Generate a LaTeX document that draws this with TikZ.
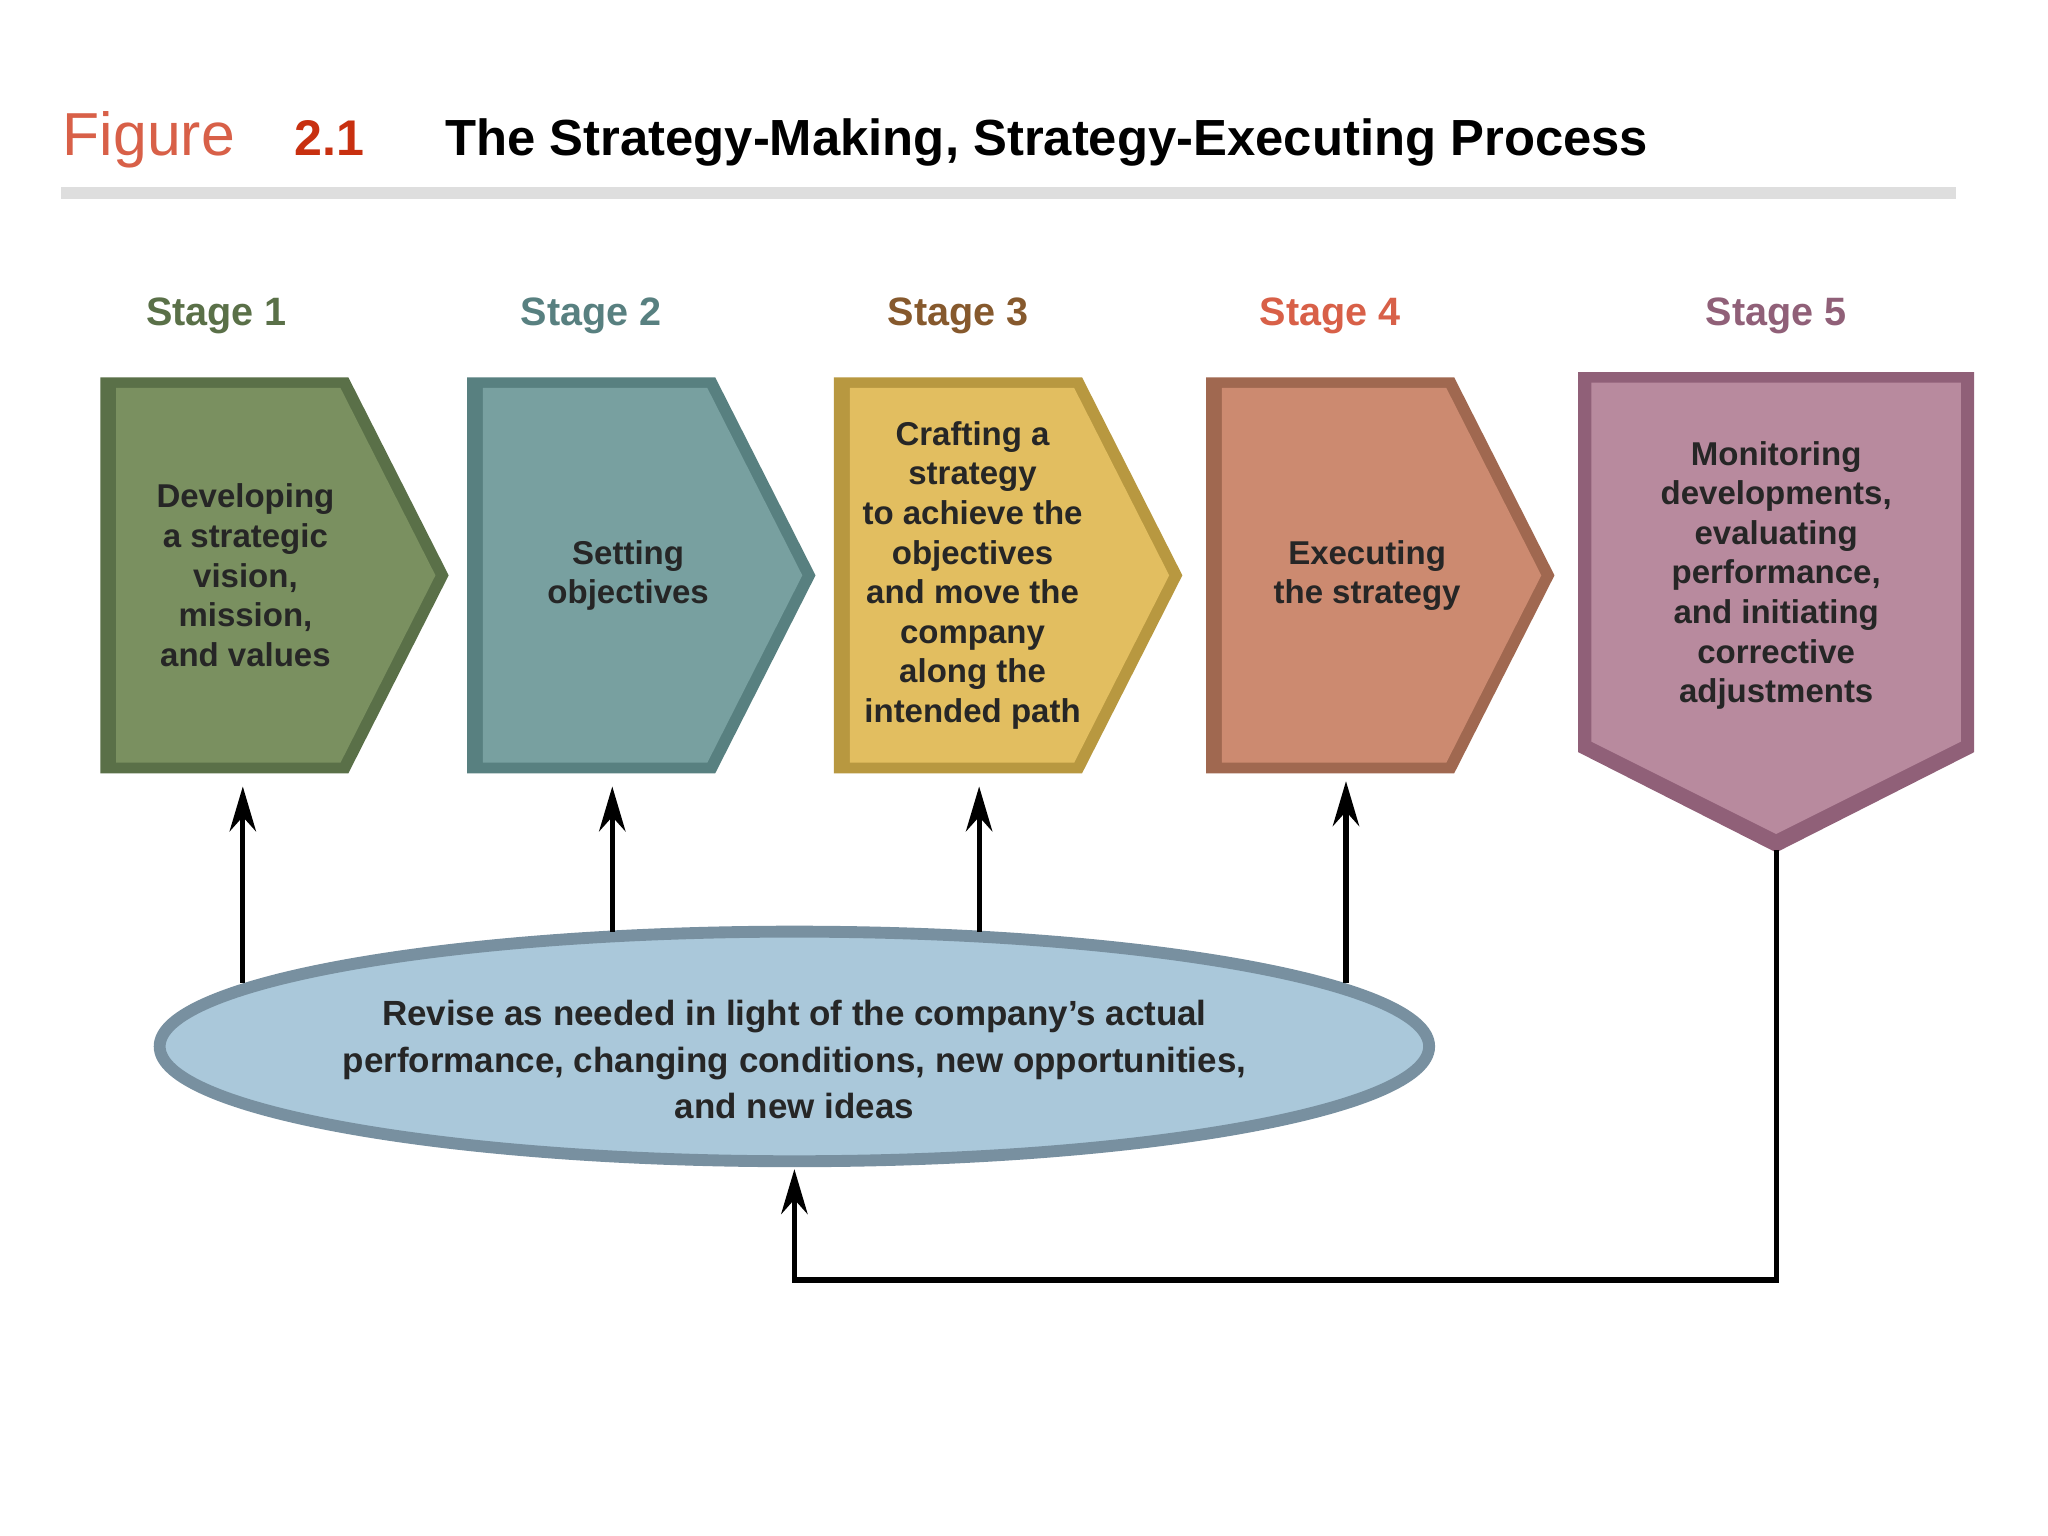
\documentclass[tikz,border=0pt]{standalone}
\usepackage{fontspec}
\setmainfont{Liberation Sans}
\usetikzlibrary{arrows.meta,shapes.geometric}
\definecolor{gA}{HTML}{7A9060}\definecolor{gAd}{HTML}{5A7048}
\definecolor{tA}{HTML}{78A0A0}\definecolor{tAd}{HTML}{588080}
\definecolor{yA}{HTML}{E2BE60}\definecolor{yAd}{HTML}{B89840}
\definecolor{oA}{HTML}{CC8A70}\definecolor{oAd}{HTML}{A06850}
\definecolor{pA}{HTML}{B88A9E}\definecolor{pAd}{HTML}{906078}
\definecolor{elA}{HTML}{AAC8DA}\definecolor{elAd}{HTML}{7890A0}
\definecolor{figc}{HTML}{D86048}\definecolor{numc}{HTML}{C83010}
\begin{document}
\begin{tikzpicture}[x=1pt,y=-1pt,
  body/.style={font=\fontsize{25}{30}\selectfont\bfseries,align=center,text=black!85},
  stg/.style={font=\fontsize{30}{30}\selectfont\bfseries},
  arr/.style={line width=4pt,-{Stealth[length=34pt,width=20pt]}}]
\useasboundingbox (0,0) rectangle (1552,1164);
\fill[white] (0,0) rectangle (1552,1164);
% title
\node[anchor=base west,font=\fontsize{46}{46}\selectfont,text=figc] (fig) at (44,118) {Figure};
\node[anchor=base west,font=\fontsize{38}{38}\selectfont\bfseries,text=numc] (num) at (220,118) {2.1};
\node[anchor=base west,font=\fontsize{38.5}{38}\selectfont\bfseries] (ttl) at (334,118) {The Strategy-Making, Strategy-Executing Process};
\fill[black!13] (46,142) rectangle (1482,151);
% stage labels
\node[stg,text=gAd] (s1) at (164,239) {Stage 1};
\node[stg,text=tAd] (s2) at (448,239) {Stage 2};
\node[stg,text=brown!70!black] (s3) at (726,239) {Stage 3};
\node[stg,text=figc] (s4) at (1008,239) {Stage 4};
\node[stg,text=pAd] (s5) at (1346,239) {Stage 5};
% shapes
\foreach \l/\c/\d in {76/gA/gAd,354/tA/tAd,632/yA/yAd,914/oA/oAd}{
  \fill[\d] (\l,286) -- ++(188,0) -- ++(76,150) -- ++(-76,150) -- ++(-188,0) -- cycle;
  \fill[\c] (\l+12,294) -- ++(170,0) -- ++(72,142) -- ++(-72,142) -- ++(-170,0) -- cycle;
}
\fill[pAd] (1196,282) -- (1496,282) -- (1496,570) -- (1346,646) -- (1196,570) -- cycle;
\fill[pA] (1206,290) -- (1486,290) -- (1486,562) -- (1346,632) -- (1206,562) -- cycle;
\node[body] (b1) at (186,436) {Developing\\a strategic\\vision,\\mission,\\and values};
\node[body] (b2) at (476,436) {Setting\\objectives};
\node[body] (b3) at (737,436) {Crafting a\\strategy\\to achieve the\\objectives\\and move the\\company\\along the\\intended path};
\node[body] (b4) at (1036,436) {Executing\\the strategy};
\node[body] (b5) at (1346,436) {Monitoring\\developments,\\evaluating\\performance,\\and initiating\\corrective\\adjustments};
% ellipse
\node[ellipse,draw=elAd,line width=9pt,fill=elA,minimum width=962pt,minimum height=174pt] (el) at (602,793) {};
\node[body,font=\fontsize{26.5}{35}\selectfont\bfseries] (et) at (602,803) {Revise as needed in light of the company’s actual\\performance, changing conditions, new opportunities,\\and new ideas};
% arrows
\coordinate (a1s) at (184,745); \coordinate (a1e) at (184,596);
\coordinate (a2s) at (464,706); \coordinate (a2e) at (464,596);
\coordinate (a3s) at (742,706); \coordinate (a3e) at (742,596);
\coordinate (a4s) at (1020,745); \coordinate (a4e) at (1020,592);
\draw[arr] (a1s) -- (a1e);
\draw[arr] (a2s) -- (a2e);
\draw[arr] (a3s) -- (a3e);
\draw[arr] (a4s) -- (a4e);
\coordinate (t5) at (1346,644); \coordinate (eb) at (602,886);
\draw[arr] (t5) -- (1346,970) -- (602,970) -- (eb);
\end{tikzpicture}
\end{document}
